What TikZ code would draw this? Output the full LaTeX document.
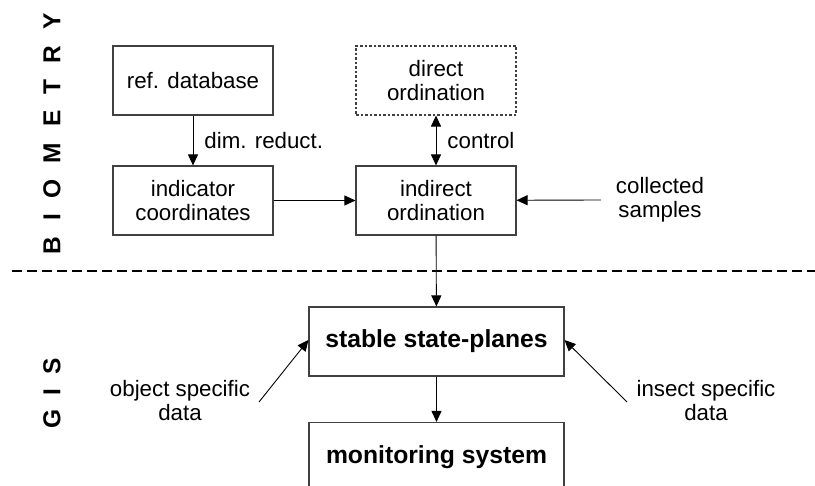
\documentclass[tikz,border=0pt]{standalone}
\usepackage{fontspec}
\setmainfont{Liberation Sans}
\usetikzlibrary{arrows.meta}
\tikzset{
  box/.style={draw=black!75, line width=1.1pt, minimum width=160pt, minimum height=69pt,
              inner sep=0pt, align=center, font=\fontsize{22.3}{24}\selectfont},
  bigbox/.style={box, minimum width=255pt, font=\fontsize{24.7}{26}\selectfont\bfseries},
  dotbox/.style={box, dash pattern=on 2.5pt off 2pt},
  lbl/.style={inner sep=0pt, align=center, font=\fontsize{22.3}{24}\selectfont},
  side/.style={inner sep=0pt, font=\fontsize{24.5}{26}\selectfont\bfseries, rotate=90},
  arr/.style={line width=0.9pt, -{Triangle[length=11pt,width=10pt]}},
  darr/.style={line width=0.9pt, {Triangle[length=11pt,width=10pt]}-{Triangle[length=11pt,width=10pt]}},
  sep/.style={line width=2.6pt, dash pattern=on 10pt off 5pt}
}
\begin{document}
\begin{tikzpicture}[x=1pt,y=-1pt]
  \useasboundingbox (0,0) rectangle (815,486);
  \clip (0,0) rectangle (815,486);

  % section titles
  \node[side] (bio) at (52,134) {B\hspace{16pt}I\hspace{16pt}O\hspace{16pt}M\hspace{16pt}E\hspace{16pt}T\hspace{16pt}R\hspace{16pt}Y};
  \node[side] (gis) at (52,393) {G\hspace{14pt}I\hspace{14pt}S};

  % biometry part
  \node[box]    (refdb)    at (193,80.5)  {ref. database};
  \node[box]    (indic)    at (193,200.5) {indicator\\coordinates};
  \node[dotbox] (direct)   at (436,80.5)  {direct\\ordination};
  \node[box]    (indirect) at (436,200.5) {indirect\\ordination};
  \node[lbl]    (samples)  at (660,200)   {collected\\samples};

  \draw[arr] (refdb) -- node[lbl, anchor=west, xshift=11pt] (dim) {dim. reduct.} (indic);
  \draw[darr] (direct) -- node[lbl, anchor=west, xshift=11pt] (ctrl) {control} (indirect);
  \draw[arr] (indic) -- (indirect);
  \draw[arr] ([xshift=-15pt]samples.west) -- (indirect);

  % separator
  \coordinate (sepL) at (12,271);
  \coordinate (sepR) at (815,271);
  \draw[sep] (sepL) -- (sepR);

  % GIS part
  \node[bigbox] (stable)  at (436.5,341.5) {stable state-planes};
  \node[bigbox] (monitor) at (436.5,457)   {monitoring system};
  \node[lbl]    (object)  at (180,401)     {object specific\\data};
  \node[lbl]    (insect)  at (706,401)     {insect specific\\data};
  \coordinate (objA) at (259,402);
  \coordinate (insA) at (627,402);

  \draw[arr] (indirect) -- (stable);
  \draw[arr] (stable) -- (monitor);
  \draw[arr] (objA) -- ([yshift=1.5pt]stable.west);
  \draw[arr] (insA) -- ([yshift=1.5pt]stable.east);
\end{tikzpicture}
\end{document}
